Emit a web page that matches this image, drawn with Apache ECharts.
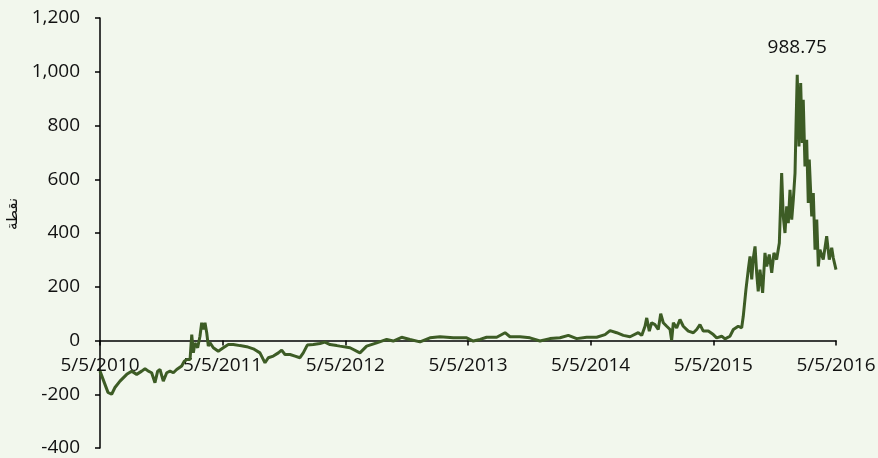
<!DOCTYPE html>
<html>
<head>
<meta charset="utf-8">
<script src="https://cdn.jsdelivr.net/npm/echarts@6/dist/echarts.min.js"></script>
<style>
  html, body { margin: 0; padding: 0; background: #f2f7ed; }
  #chart { width: 878px; height: 458px; }
</style>
</head>
<body>
<div id="chart"></div>
<script>
// 时间：距 5/5/2010 的年数
const yearsFromStart = [
  0.000, 0.014, 0.065, 0.095, 0.122, 0.163, 0.218, 0.258, 0.299, 0.340,
  0.367, 0.394, 0.421, 0.448, 0.470, 0.489, 0.516, 0.544, 0.571, 0.598,
  0.625, 0.666, 0.687, 0.707, 0.734, 0.748, 0.761, 0.774, 0.796, 0.815,
  0.829, 0.842, 0.856, 0.870, 0.883, 0.897, 0.924, 0.964, 1.005, 1.046,
  1.087, 1.141, 1.196, 1.250, 1.304, 1.345, 1.372, 1.413, 1.454, 1.481,
  1.508, 1.549, 1.590, 1.630, 1.657, 1.690, 1.739, 1.793, 1.834, 1.875,
  1.930, 1.956, 2.038, 2.119, 2.174, 2.256, 2.337, 2.391, 2.459, 2.527,
  2.609, 2.690, 2.772, 2.880, 2.989, 3.043, 3.098, 3.152, 3.234, 3.302,
  3.342, 3.424, 3.505, 3.587, 3.668, 3.750, 3.818, 3.886, 3.968, 4.049,
  4.117, 4.158, 4.212, 4.266, 4.321, 4.388, 4.416, 4.443, 4.457, 4.478,
  4.497, 4.524, 4.551, 4.571, 4.592, 4.620, 4.647, 4.660, 4.674, 4.701,
  4.728, 4.755, 4.796, 4.837, 4.864, 4.891, 4.918, 4.959, 5.000, 5.027,
  5.041, 5.068, 5.095, 5.136, 5.163, 5.203, 5.231, 5.244, 5.266, 5.285,
  5.299, 5.313, 5.326, 5.340, 5.353, 5.366, 5.380, 5.402, 5.421, 5.435,
  5.456, 5.476, 5.494, 5.516, 5.538, 5.557, 5.570, 5.584, 5.598, 5.611,
  5.625, 5.639, 5.652, 5.666, 5.674, 5.684, 5.698, 5.712, 5.725, 5.733,
  5.747, 5.761, 5.774, 5.782, 5.802, 5.815, 5.829, 5.843, 5.856, 5.869,
  5.896, 5.924, 5.945, 5.965, 5.978, 6.000
]

// 数值（点）
const pointValues = [
  -114, -120, -193, -200, -175, -151, -126, -114, -126, -114,
  -105, -114, -120, -157, -114, -108, -151, -120, -114, -120,
  -108, -95, -77, -71, -71, 22, -46, -9, -27, 16,
  66, 41, 66, 29, -21, -9, -27, -40, -27, -15,
  -15, -19, -23, -31, -46, -83, -64, -58, -46, -36,
  -52, -52, -58, -64, -46, -17, -15, -11, -6, -15,
  -19, -21, -27, -46, -21, -9, 4, -2, 12, 4,
  -5, 10, 14, 10, 10, -2, 4, 12, 12, 29,
  14, 14, 10, -2, 7, 10, 19, 7, 12, 12,
  22, 37, 29, 19, 14, 29, 19, 53, 84, 35,
  66, 59, 41, 100, 66, 53, 41, 1, 66, 47,
  78, 53, 35, 29, 41, 59, 35, 35, 22, 10,
  4, 16, 6, 16, 41, 53, 47, 90, 190, 264,
  313, 227, 307, 350, 252, 183, 264, 177, 326, 276,
  320, 252, 326, 301, 363, 623, 462, 400, 499, 437,
  561, 450, 524, 623, 797, 988.75, 722, 958, 735, 896,
  648, 747, 512, 673, 462, 549, 338, 450, 276, 338,
  301, 388, 301, 345, 307, 264
]

const startYear = 2010
const yMin = -400
const yMax = 1200
const yStep = 200

const seriesData = yearsFromStart.map((t, i) => [t, pointValues[i]])
const peakValue = Math.max(...pointValues)
const peakIndex = pointValues.indexOf(peakValue)

const textColor = '#111'
const fontFamily = '"Open Sans", "Liberation Sans", sans-serif'

// 绘图区
const gridTop = 18
const gridBottom = 10
const plotHeight = 458 - gridTop - gridBottom
// x 轴放在 0 值处
const zeroOffset = -plotHeight * (0 - yMin) / (yMax - yMin)

const chart = echarts.init(document.getElementById('chart'))
const option = {
  backgroundColor: '#f2f7ed',
  animation: false,
  grid: { left: 100, right: 42, top: gridTop, bottom: gridBottom, outerBoundsMode: 'none', containLabel: false },
  xAxis: {
    type: 'value',
    min: 0,
    max: 6,
    interval: 1,
    offset: zeroOffset,
    axisLine: { onZero: false, lineStyle: { color: '#000', width: 1.5 } },
    axisTick: { show: true, length: 5, lineStyle: { color: '#000', width: 1.5 } },
    axisLabel: {
      margin: 16,
      color: textColor,
      fontSize: 19,
      fontFamily: fontFamily,
      formatter: (v) => '5/5/' + (startYear + v),
    },
    splitLine: { show: false },
  },
  yAxis: {
    type: 'value',
    min: yMin,
    max: yMax,
    interval: yStep,
    name: 'نقطة',
    nameLocation: 'middle',
    nameRotate: 90,
    nameGap: 76,
    nameTextStyle: {
      color: textColor,
      fontSize: 15,
      fontFamily: '"Noto Sans", "DejaVu Sans", sans-serif',
      padding: [0, 0, 0, 38],
    },
    axisLine: { onZero: false, lineStyle: { color: '#000', width: 1.5 } },
    axisTick: { show: true, length: 5, lineStyle: { color: '#000', width: 1.5 } },
    axisLabel: {
      margin: 20,
      color: textColor,
      fontSize: 19,
      fontFamily: fontFamily,
      formatter: (v) => v.toLocaleString('en-US'),
    },
    splitLine: { show: false },
  },
  series: [
    {
      type: 'line',
      data: seriesData,
      showSymbol: false,
      lineStyle: { color: '#3d5c25', width: 3 },
      markPoint: {
        symbol: 'circle',
        symbolSize: 0,
        data: [{ coord: seriesData[peakIndex], value: peakValue }],
        label: {
          show: true,
          position: 'top',
          distance: 18,
          color: textColor,
          fontSize: 19,
          fontFamily: fontFamily,
          formatter: () => peakValue.toFixed(2),
        },
      },
    },
  ],
}
chart.setOption(option)
</script>
</body>
</html>
